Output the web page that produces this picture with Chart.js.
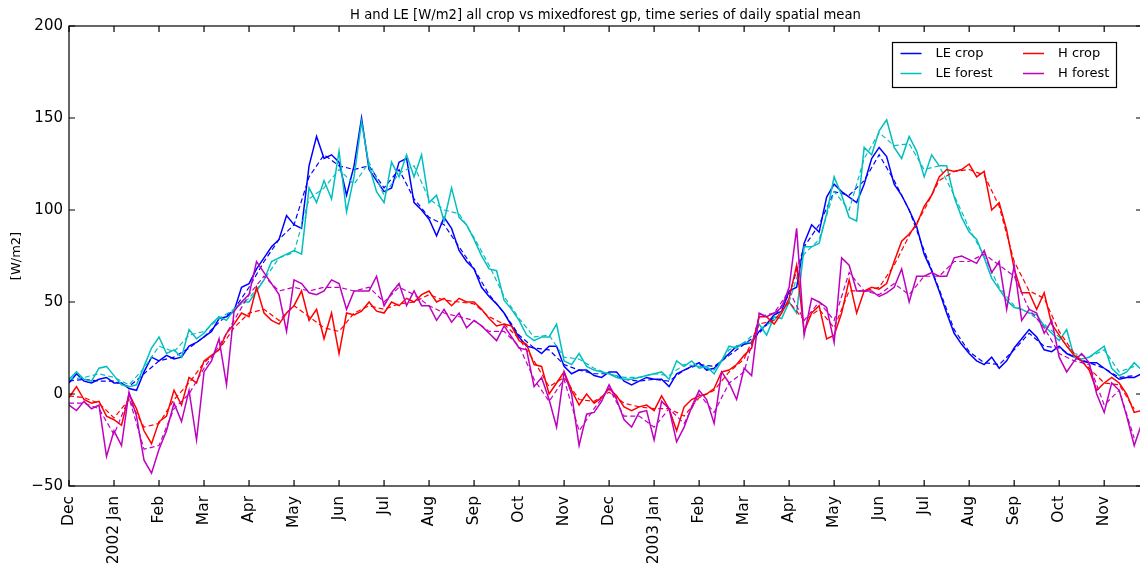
<!DOCTYPE html>
<html>
<head>
<meta charset="utf-8">
<title>H and LE time series</title>
<script src="https://cdn.jsdelivr.net/npm/chart.js@4.4.1/dist/chart.umd.min.js"></script>
<style>
  html, body { margin: 0; padding: 0; background: #fff; overflow: hidden; }
  #wrap { width: 1150px; height: 567px; }
</style>
</head>
<body>
<div id="wrap"><canvas id="chart"></canvas></div>
<script>
// month ticks, Dec 2001 .. Nov 2003 (x unit = months since 1 Dec 2001)
const monthLabels = ['Dec', '2002 Jan', 'Feb', 'Mar', 'Apr', 'May', 'Jun', 'Jul', 'Aug', 'Sep', 'Oct', 'Nov',
  'Dec', '2003 Jan', 'Feb', 'Mar', 'Apr', 'May', 'Jun', 'Jul', 'Aug', 'Sep', 'Oct', 'Nov'];
const yTicks = [-50, 0, 50, 100, 150, 200];
const xEnd = 23.84;

// solid series, 6 readings per month
const samplesPerMonth = 6;
const leCrop = [
  6, 11, 7, 6, 8, 9, 6, 6, 3, 2, 12, 20, 18, 21, 19, 20, 26, 28, 31, 34, 41, 42, 45, 58,
  60, 68, 74, 80, 84, 97, 92, 90, 124, 140, 128, 130, 126, 108, 124, 150, 122, 116, 110, 112, 126, 128, 104, 100,
  95, 86, 96, 90, 78, 72, 68, 58, 53, 49, 44, 37, 31, 26, 25, 22, 26, 26, 15, 11, 13, 13, 10, 9,
  12, 12, 7, 5, 7, 9, 8, 8, 4, 11, 13, 15, 17, 13, 14, 18, 22, 26, 27, 28, 34, 38, 43, 45,
  56, 58, 82, 92, 88, 107, 114, 110, 107, 104, 114, 128, 134, 129, 114, 108, 100, 91, 76, 67, 56, 44, 33, 27,
  22, 18, 16, 20, 14, 18, 25, 30, 35, 31, 24, 23, 26, 22, 20, 18, 17, 17, 14, 11, 8, 9, 9, 11
];
const leForest = [
  8, 12, 8, 7, 14, 15, 10, 5, 4, 5, 15, 25, 31, 22, 24, 20, 35, 30, 33, 38, 42, 40, 46, 50,
  50, 56, 62, 72, 74, 76, 78, 76, 112, 104, 116, 106, 132, 99, 118, 148, 124, 110, 104, 126, 118, 130, 118, 130,
  104, 108, 94, 112, 96, 92, 84, 75, 68, 67, 51, 46, 40, 32, 29, 31, 31, 38, 18, 16, 22, 15, 13, 12,
  11, 9, 8, 8, 9, 10, 11, 12, 8, 18, 15, 18, 14, 15, 11, 18, 26, 25, 28, 28, 38, 32, 42, 41,
  50, 44, 80, 80, 82, 98, 118, 108, 96, 94, 134, 130, 143, 149, 134, 128, 140, 132, 118, 130, 124, 124, 107, 96,
  88, 84, 74, 63, 57, 51, 47, 46, 44, 43, 37, 33, 29, 35, 20, 19, 20, 23, 26, 14, 10, 12, 17, 13
];
const hCrop = [
  -2, 4, -3, -5, -4, -12, -14, -17, 0, -8, -20, -27, -15, -12, 2, -6, 9, 6, 18, 21, 24, 33, 38, 44,
  42, 58, 44, 40, 38, 44, 48, 56, 40, 46, 30, 44, 22, 44, 43, 45, 50, 45, 44, 50, 48, 52, 50, 54,
  56, 50, 52, 48, 52, 50, 50, 46, 41, 37, 38, 37, 29, 27, 16, 15, 0, 6, 12, 2, -6, 0, -5, -2,
  3, -1, -7, -9, -7, -6, -9, -1, -8, -20, -7, -3, -1, 0, 3, 12, 13, 16, 21, 25, 42, 42, 38, 44,
  52, 70, 34, 44, 48, 30, 32, 44, 62, 44, 56, 58, 57, 60, 72, 83, 87, 92, 102, 108, 118, 122, 121, 122,
  125, 118, 121, 100, 104, 89, 68, 55, 55, 46, 55, 38, 32, 26, 21, 18, 13, 2, 6, 9, 6, 0, -10, -9
];
const hForest = [
  -6, -9, -4, -8, -6, -34, -20, -28, 1, -12, -36, -43, -30, -20, -5, -15, 2, -25, 12, 18, 30, 5, 45, 50,
  54, 72, 66, 60, 54, 34, 62, 60, 55, 54, 56, 62, 60, 46, 56, 56, 56, 64, 48, 55, 60, 48, 56, 48,
  48, 40, 46, 39, 44, 36, 40, 37, 33, 29, 37, 31, 25, 24, 4, 9, -3, -18, 12, 0, -28, -11, -10, -4,
  5, -3, -14, -18, -10, -9, -25, -4, -8, -26, -18, -7, 2, -3, -16, 12, 6, -3, 14, 10, 44, 42, 44, 47,
  58, 90, 32, 52, 50, 47, 28, 74, 70, 56, 56, 56, 53, 55, 58, 68, 50, 64, 64, 66, 64, 64, 74, 75,
  73, 71, 78, 66, 72, 46, 70, 40, 46, 44, 33, 40, 20, 12, 18, 22, 17, 0, -10, 6, 2, -12, -28, -16
];

// dashed companions, 3 readings per month
const dashPerMonth = 3;
const leCropDash = [
  7, 8, 7, 7, 4, 11, 18, 20, 25, 31, 39, 46,
  58, 72, 84, 92, 118, 130, 124, 122, 124, 112, 122, 106,
  96, 92, 80, 68, 54, 44, 32, 25, 24, 16, 13, 11,
  11, 8, 7, 8, 7, 13, 16, 15, 21, 27, 33, 42,
  54, 80, 92, 110, 108, 116, 130, 116, 100, 78, 57, 35,
  23, 17, 16, 24, 33, 26, 25, 20, 17, 14, 9, 10
];
const leForestDash = [
  8, 9, 11, 9, 5, 14, 26, 23, 32, 34, 41, 46,
  52, 62, 74, 77, 106, 112, 122, 114, 126, 108, 120, 124,
  106, 100, 98, 85, 70, 53, 41, 31, 32, 20, 19, 14,
  11, 9, 9, 11, 10, 16, 15, 13, 24, 28, 35, 40,
  50, 76, 84, 110, 100, 128, 142, 135, 136, 122, 124, 108,
  90, 75, 58, 48, 44, 38, 31, 22, 20, 24, 12, 15
];
const hCropDash = [
  -1, -2, -5, -13, -3, -18, -16, -3, 6, 17, 24, 36,
  44, 46, 40, 48, 42, 36, 34, 44, 48, 46, 49, 50,
  54, 51, 50, 49, 42, 38, 30, 18, 4, 9, -3, -4,
  1, -5, -7, -8, -8, -12, -2, 2, 12, 19, 38, 40,
  50, 40, 46, 36, 56, 56, 58, 70, 86, 100, 116, 121,
  122, 119, 102, 72, 56, 52, 34, 22, 14, 6, 5, -8
];
const hForestDash = [
  -5, -5, -8, -22, -2, -30, -28, -8, 0, 14, 26, 40,
  54, 64, 56, 58, 56, 58, 58, 56, 58, 50, 58, 54,
  48, 44, 42, 40, 34, 34, 26, 8, -4, 8, -20, -8,
  3, -12, -12, -18, -8, -16, 0, -10, 6, 12, 42, 44,
  56, 40, 50, 40, 66, 56, 54, 60, 54, 64, 64, 72,
  72, 76, 70, 64, 46, 36, 22, 18, 16, -6, 2, -24
];

const titleText = 'H and LE [W/m2] all crop vs mixedforest gp, time series of daily spatial mean';
const legendItems = [
  { label: 'LE crop', color: '#0000ff' },
  { label: 'LE forest', color: '#00bfbf' },
  { label: 'H crop', color: '#ff0000' },
  { label: 'H forest', color: '#bf00bf' }
];

function toPoints(values, perMonth) {
  return values.map((v, i) => ({ x: i / perMonth, y: v }));
}

function solid(label, values, color, order) {
  return { label: label, data: toPoints(values, samplesPerMonth), borderColor: color,
    borderWidth: 1.5, pointRadius: 0, tension: 0, order: order };
}
function dashed(label, values, color, order) {
  return { label: label, data: toPoints(values, dashPerMonth), borderColor: color,
    borderWidth: 1.2, borderDash: [5, 3], pointRadius: 0, tension: 0, order: order };
}

// matplotlib-like box, inward ticks, title and two-column legend
const mplFrame = {
  id: 'mplFrame',
  afterDraw(chart) {
    const { ctx, chartArea: a, scales } = chart;
    ctx.save();
    ctx.strokeStyle = '#000';
    ctx.lineWidth = 1.2;
    ctx.strokeRect(a.left, a.top, a.right - a.left, a.bottom - a.top);
    ctx.beginPath();
    scales.x.ticks.forEach(t => {
      const px = scales.x.getPixelForValue(t.value);
      ctx.moveTo(px, a.bottom); ctx.lineTo(px, a.bottom - 6);
      ctx.moveTo(px, a.top); ctx.lineTo(px, a.top + 6);
    });
    scales.y.ticks.forEach(t => {
      const py = scales.y.getPixelForValue(t.value);
      ctx.moveTo(a.left, py); ctx.lineTo(a.left + 6, py);
      ctx.moveTo(a.right, py); ctx.lineTo(a.right - 6, py);
    });
    ctx.stroke();

    ctx.fillStyle = '#000';
    ctx.font = '13.2px "DejaVu Sans"';
    ctx.textAlign = 'center';
    ctx.textBaseline = 'alphabetic';
    ctx.fillText(titleText, (a.left + a.right) / 2, a.top - 7);

    // legend box
    const bx = 892.5, by = 42.5, bw = 224, bh = 45;
    ctx.fillStyle = '#fff';
    ctx.fillRect(bx, by, bw, bh);
    ctx.lineWidth = 1.2;
    ctx.strokeRect(bx, by, bw, bh);
    ctx.font = '13px "DejaVu Sans"';
    ctx.textAlign = 'left';
    ctx.textBaseline = 'middle';
    legendItems.forEach((it, i) => {
      const col = Math.floor(i / 2), row = i % 2;
      const lx = bx + 8 + col * 122.5;
      const ly = by + 11 + row * 20;
      ctx.strokeStyle = it.color;
      ctx.lineWidth = 1.5;
      ctx.beginPath();
      ctx.moveTo(lx, ly); ctx.lineTo(lx + 21, ly);
      ctx.stroke();
      ctx.fillStyle = '#000';
      ctx.fillText(it.label, lx + 35, ly);
    });
    ctx.restore();
  }
};

Chart.defaults.font.family = '"DejaVu Sans", sans-serif';
Chart.defaults.color = '#000';

new Chart(document.getElementById('chart'), {
  type: 'line',
  data: {
    datasets: [
      solid('LE crop', leCrop, '#0000ff', 7),
      dashed('LE crop dashed', leCropDash, '#0000ff', 6),
      solid('LE forest', leForest, '#00bfbf', 5),
      dashed('LE forest dashed', leForestDash, '#00bfbf', 4),
      solid('H crop', hCrop, '#ff0000', 3),
      dashed('H crop dashed', hCropDash, '#ff0000', 2),
      solid('H forest', hForest, '#bf00bf', 1),
      dashed('H forest dashed', hForestDash, '#bf00bf', 0)
    ]
  },
  options: {
    responsive: true,
    maintainAspectRatio: false,
    animation: false,
    layout: { padding: { top: 26, right: 8, left: 0, bottom: 0 } },
    plugins: { legend: { display: false }, title: { display: false }, tooltip: { enabled: false } },
    scales: {
      x: {
        type: 'linear',
        min: 0,
        max: xEnd,
        grid: { display: false, drawTicks: false },
        border: { display: false },
        afterBuildTicks: s => { s.ticks = monthLabels.map((_, i) => ({ value: i })); },
        afterFit: s => { s.height = 81; },
        ticks: {
          autoSkip: false,
          minRotation: 90,
          maxRotation: 90,
          padding: 10,
          font: { size: 15.5 },
          callback: v => monthLabels[Math.round(v)]
        }
      },
      y: {
        min: -50,
        max: 200,
        grid: { display: false, drawTicks: false },
        border: { display: false },
        afterBuildTicks: s => { s.ticks = yTicks.map(v => ({ value: v })); },
        afterFit: s => { s.width = 69; },
        title: { display: true, text: '[W/m2]', font: { size: 13 }, padding: { top: 9, bottom: 0 } },
        ticks: {
          padding: 6,
          font: { size: 15 },
          callback: v => (v < 0 ? '\u2212' + Math.abs(v) : String(v))
        }
      }
    }
  },
  plugins: [mplFrame]
});
</script>
</body>
</html>
